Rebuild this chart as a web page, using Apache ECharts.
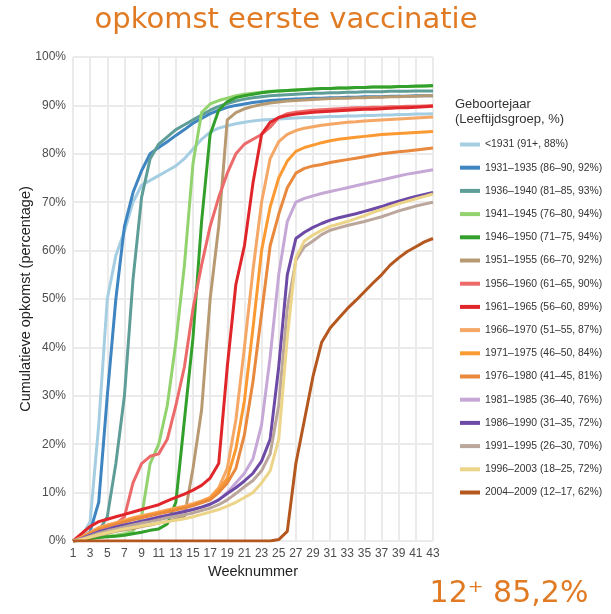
<!DOCTYPE html>
<html>
<head>
<meta charset="utf-8">
<title>opkomst eerste vaccinatie</title>
<script src="https://cdn.jsdelivr.net/npm/echarts@6/dist/echarts.min.js"></script>
<style>
  html, body { margin: 0; padding: 0; background: #fff; }
  #chart { width: 611px; height: 614px; }
</style>
</head>
<body>
<div id="chart"></div>
<script>
// weeknummers (x-as)
const weeks = [1,2,3,4,5,6,7,8,9,10,11,12,13,14,15,16,17,18,19,20,21,22,23,24,25,26,27,28,29,30,31,32,33,34,35,36,37,38,39,40,41,42,43];

// cumulatieve opkomst per geboortejaar, % per week
const g1931 = [0,1,4,24,50,59,64,70,73.5,74.5, 75.5,76.5,77.5,79,81,83,84.5,85.3,85.8,86.2, 86.5,86.8,87,87.1,87.2,87.3,87.4,87.5,87.5,87.6, 87.7,87.7,87.8,87.8,87.9,87.9,88,88,88.1,88.1, 88.2,88.2,88.3];
const g1935 = [0,0.5,2,8,30,50,65,72,76.5,80, 81.3,82.5,83.8,85,86.3,87.3,88.3,89,89.6,90, 90.3,90.6,90.8,91,91.1,91.2,91.3,91.4,91.5,91.5, 91.6,91.6,91.7,91.7,91.8,91.8,91.8,91.9,91.9,91.9, 92,92,92];
const g1940 = [0,0.3,1,2,5,16,30,54,71,79, 82,83.5,85,86,87,88,89,89.8,90.4,90.9, 91.3,91.6,91.8,92,92.1,92.2,92.3,92.4,92.5,92.5, 92.6,92.6,92.7,92.7,92.8,92.8,92.8,92.9,92.9,92.9, 93,93,93];
const g1945 = [0,0.2,0.5,0.8,1,1.2,1.5,2,5,16, 20,28,41,57,78,88.5,90.3,91,91.5,92, 92.3,92.5,92.7,92.9,93,93.1,93.2,93.3,93.4,93.5, 93.5,93.6,93.6,93.7,93.7,93.8,93.8,93.8,93.9,93.9, 93.9,94,94];
const g1950 = [0,0.2,0.5,0.7,0.9,1,1.2,1.5,1.8,2.2, 2.5,3.5,8,25,42,66,84,89,90.8,91.6, 92,92.3,92.6,92.8,93,93.1,93.2,93.3,93.4,93.5, 93.5,93.6,93.6,93.7,93.7,93.8,93.8,93.8,93.9,93.9, 94,94,94.1];
const g1955 = [0,0.3,0.8,1.2,1.6,2,2.3,2.6,3,3.3, 3.7,4,4.5,5,15,27,50,65,87,88.5, 89.3,89.8,90.2,90.5,90.7,90.9,91,91.1,91.2,91.3, 91.4,91.5,91.5,91.6,91.6,91.7,91.7,91.8,91.8,91.9, 91.9,92,92];
const g1960 = [0,0.5,1.5,2.5,3,3.5,5,12,16,17.5, 18,21,28,36,48,57,65,71,76,80, 82,83,84,85.5,87.5,88.3,88.6,88.8,89,89.1, 89.2,89.3,89.4,89.5,89.5,89.6,89.6,89.7,89.7,89.8, 89.8,89.9,90];
const g1965 = [0,1.5,3,4,4.5,5,5.5,6,6.5,7, 7.5,8.3,9,9.7,10.5,11.5,13,16,36,53, 61,74,84,86.5,87.5,87.9,88.2,88.4,88.6,88.7, 88.8,88.9,89,89.1,89.2,89.2,89.3,89.4,89.5,89.5, 89.6,89.7,89.8];
const g1970 = [0,0.8,1.8,2.8,3.3,3.8,4.3,4.8,5.2,5.6, 6,6.4,6.8,7.2,7.7,8.3,9,11,15,25, 40,56,70,79,82.5,84,84.8,85.3,85.6,85.9, 86.1,86.3,86.5,86.6,86.8,86.9,87,87.1,87.2,87.3, 87.4,87.5,87.6];
const g1975 = [0,0.7,1.6,2.5,3.1,3.6,4.1,4.6,5,5.4, 5.8,6.2,6.6,7,7.5,8.1,8.8,10.5,13,19, 29,44,60,69,75,78.5,80.5,81.3,81.8,82.3, 82.7,83,83.2,83.4,83.6,83.8,84,84.1,84.2,84.3, 84.4,84.5,84.6];
const g1980 = [0,0.6,1.5,2.3,2.9,3.4,3.9,4.4,4.8,5.2, 5.6,6,6.4,6.8,7.3,7.9,8.5,10,12,15, 22,33,47,61,67.5,73,76,77,77.5,77.8, 78.2,78.5,78.8,79.1,79.4,79.7,80,80.2,80.4,80.6, 80.8,81,81.2];
const g1985 = [0,0.5,1.2,1.9,2.4,2.9,3.3,3.7,4.1,4.5, 4.9,5.3,5.7,6.1,6.5,7,7.6,8.5,10,12, 14,17,24,38,55,66,70,70.8,71.3,71.8, 72.2,72.6,73,73.4,73.8,74.2,74.6,75,75.4,75.8, 76.1,76.4,76.7];
const g1990 = [0,0.5,1.2,1.9,2.4,2.9,3.3,3.7,4.1,4.5, 4.9,5.3,5.7,6.1,6.5,7,7.6,8.5,9.8,11, 12.4,14,16.5,21,36,55,62.5,63.8,64.8,65.6, 66.3,66.8,67.2,67.6,68.1,68.6,69.1,69.7,70.2,70.7, 71.2,71.6,72];
const g1995 = [0,0.4,1,1.6,2.1,2.5,2.9,3.3,3.7,4, 4.4,4.8,5.1,5.4,5.8,6.3,6.8,7.5,8.5,9.8, 11.2,12.5,14.5,18,28,48,58,60.8,62,63.3, 64.2,64.7,65.2,65.6,66,66.5,67,67.6,68.2,68.7, 69.2,69.6,70];
const g2003 = [0,0.3,0.8,1.3,1.7,2.1,2.5,2.8,3.1,3.4, 3.7,4,4.3,4.6,5,5.5,6,6.5,7.2,8, 9,10,12,14.5,21,42,58.5,62,63.2,64.2, 65,65.5,66,66.6,67.2,67.9,68.5,69.1,69.7,70.2, 70.7,71.2,71.7];
const g2009 = [0,0,0,0,0,0,0,0,0,0, 0,0,0,0,0,0,0,0,0,0, 0,0,0,0,0.3,2,16,25,34,41, 44,46,48,49.7,51.5,53.3,55,57,58.5,59.8, 60.8,61.8,62.5];

const groupNames = [
  '<1931 (91+, 88%)',
  '1931–1935 (86–90, 92%)',
  '1936–1940 (81–85, 93%)',
  '1941–1945 (76–80, 94%)',
  '1946–1950 (71–75, 94%)',
  '1951–1955 (66–70, 92%)',
  '1956–1960 (61–65, 90%)',
  '1961–1965 (56–60, 89%)',
  '1966–1970 (51–55, 87%)',
  '1971–1975 (46–50, 84%)',
  '1976–1980 (41–45, 81%)',
  '1981–1985 (36–40, 76%)',
  '1986–1990 (31–35, 72%)',
  '1991–1995 (26–30, 70%)',
  '1996–2003 (18–25, 72%)',
  '2004–2009 (12–17, 62%)',
];
const groupData = [g1931, g1935, g1940, g1945, g1950, g1955, g1960, g1965,
  g1970, g1975, g1980, g1985, g1990, g1995, g2003, g2009];
const groupColors = ['#a6cee3', '#3f85c2', '#5f9e98', '#92d36e', '#33a02c', '#b89a72',
  '#ec6a6a', '#e0262a', '#f5a766', '#fb9a32', '#e8893e', '#c5a8d6',
  '#6d4aa5', '#bba69c', '#ecd488', '#b5581f'];

const ORANGE = '#e07b24';
const FONT = '"Liberation Sans", Arial, sans-serif';
const TITLE_FONT = '"DejaVu Sans", Verdana, sans-serif';

const chart = echarts.init(document.getElementById('chart'), null, { renderer: 'canvas' });

const series = groupNames.map((name, i) => ({
  name: name,
  type: 'line',
  data: groupData[i],
  symbol: 'none',
  smooth: false,
  color: groupColors[i],
  lineStyle: { width: 3, color: groupColors[i] },
  emphasis: { disabled: true },
}));

chart.setOption({
  animation: false,
  backgroundColor: '#fff',
  textStyle: { fontFamily: FONT },
  grid: { left: 73, right: 178, top: 57, bottom: 73 },
  xAxis: {
    type: 'category',
    data: weeks,
    boundaryGap: false,
    name: 'Weeknummer',
    nameLocation: 'middle',
    nameGap: 23,
    nameTextStyle: { fontSize: 14.5, color: '#222', fontFamily: FONT },
    axisLine: { show: false },
    axisTick: { show: false },
    axisLabel: { interval: 1, fontSize: 12, color: '#4d4d4d', margin: 7, fontFamily: FONT },
    splitLine: { show: true, interval: 1, lineStyle: { color: '#ebebeb', width: 2 } },
  },
  yAxis: {
    type: 'value',
    min: 0,
    max: 100,
    interval: 10,
    name: 'Cumulatieve opkomst (percentage)',
    nameLocation: 'middle',
    nameGap: 40,
    nameMoveOverlap: false,
    nameTextStyle: { fontSize: 14.5, color: '#222', fontFamily: FONT },
    axisLine: { show: false },
    axisTick: { show: false },
    axisLabel: { formatter: '{value}%', fontSize: 12, color: '#4d4d4d', margin: 7, fontFamily: FONT },
    splitLine: { show: true, lineStyle: { color: '#ebebeb', width: 2 } },
  },
  legend: {
    orient: 'vertical',
    left: 455,
    top: 133,
    icon: 'rect',
    itemWidth: 20,
    itemHeight: 4,
    itemGap: 10.2,
    selectedMode: false,
    data: groupNames,
    textStyle: { fontSize: 10.4, color: '#333', lineHeight: 13, fontFamily: FONT },
  },
  graphic: [
    {
      type: 'text',
      x: 286,
      y: 20,
      style: {
        text: 'opkomst eerste vaccinatie',
        fontFamily: TITLE_FONT,
        fontSize: 29,
        fill: ORANGE,
        align: 'center',
        verticalAlign: 'middle',
      },
    },
    {
      type: 'text',
      left: 455,
      top: 97,
      style: {
        text: 'Geboortejaar\n(Leeftijdsgroep, %)',
        fontFamily: FONT,
        fontSize: 13,
        lineHeight: 15,
        fill: '#333',
      },
    },
    {
      type: 'text',
      x: 509,
      y: 594,
      style: {
        text: '12⁺ 85,2%',
        fontFamily: TITLE_FONT,
        fontSize: 30,
        fill: ORANGE,
        align: 'center',
        verticalAlign: 'middle',
      },
    },
  ],
  series: series,
});
</script>
</body>
</html>
